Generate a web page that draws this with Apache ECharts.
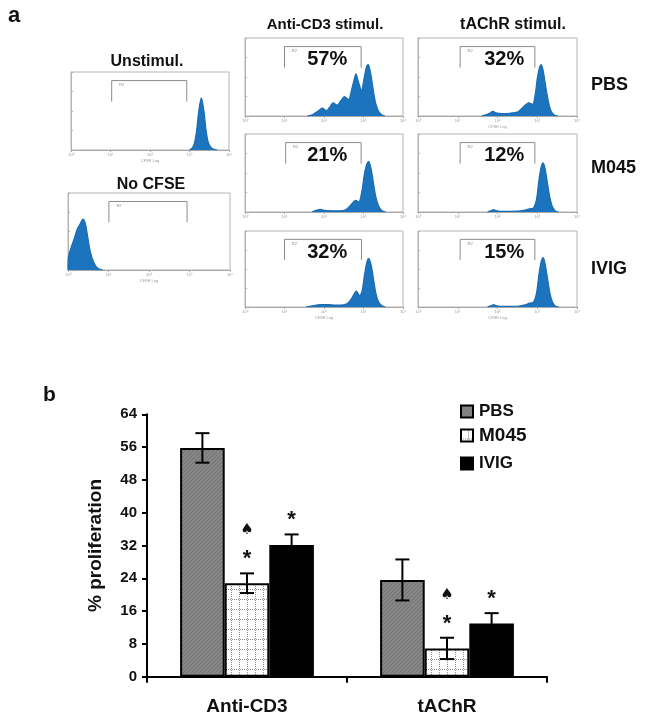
<!DOCTYPE html>
<html><head><meta charset="utf-8">
<script src="https://cdn.jsdelivr.net/npm/echarts@6/dist/echarts.min.js"></script>
<style>html,body{margin:0;padding:0;background:#fff}#c{width:645px;height:722px}</style>
</head><body><div id="c"></div>
<script>
// ---------- Panel a: CFSE histograms ([log10 decade, % of panel height]) ----------
const histUnstim = [[3.0,0],[3.06,2],[3.12,8],[3.18,25],[3.24,52],[3.3,67],[3.36,52],[3.42,25],[3.48,9],[3.55,3],[3.62,1],[3.7,0]];
const histNoCFSE = [[0,0],[0.01,16],[0.08,30],[0.15,40],[0.22,52],[0.3,60],[0.37,66],[0.43,60],[0.49,42],[0.55,24],[0.62,12],[0.7,4],[0.78,1],[0.86,0]];
const histCD3PBS = [[1.58,0],[1.72,2],[1.84,6],[1.96,10],[2.06,7],[2.14,11],[2.23,17],[2.33,14],[2.42,19],[2.52,25],[2.62,21],[2.7,34],[2.76,46],[2.81,54],[2.87,44],[2.95,33],[3.02,50],[3.08,64],[3.12,66],[3.18,55],[3.24,36],[3.3,18],[3.37,7],[3.45,2],[3.54,0]];
const histCD3M045 = [[1.7,0],[1.8,2],[1.9,3.5],[2.0,2],[2.2,1.5],[2.4,1.5],[2.55,3],[2.68,9],[2.8,15],[2.88,13],[2.96,27],[3.02,48],[3.08,61],[3.13,65],[3.19,56],[3.25,38],[3.31,20],[3.38,8],[3.46,2],[3.56,0]];
const histCD3IVIG = [[1.55,0],[1.7,1.5],[1.9,3],[2.1,3],[2.3,2.5],[2.5,3],[2.62,6],[2.72,13],[2.82,21],[2.9,15],[2.96,20],[3.03,44],[3.09,60],[3.13,64],[3.19,56],[3.25,38],[3.31,19],[3.38,7],[3.46,2],[3.55,0]];
const histTPBS = [[1.6,0],[1.7,1.5],[1.8,3.5],[1.88,6],[1.96,4],[2.1,3],[2.3,3.5],[2.5,5],[2.6,9],[2.7,14],[2.79,17],[2.88,15],[2.95,28],[3.0,48],[3.06,63],[3.1,66],[3.15,58],[3.2,42],[3.25,27],[3.3,14],[3.36,5],[3.44,1],[3.52,0]];
const histTM045 = [[1.75,0],[1.85,2],[1.9,3],[1.98,1.5],[2.2,0.8],[2.5,1],[2.7,2.5],[2.8,4],[2.9,5],[2.98,16],[3.04,40],[3.1,58],[3.15,63],[3.2,55],[3.26,36],[3.32,18],[3.38,7],[3.46,1],[3.54,0]];
const histTIVIG = [[1.75,0],[1.85,2],[1.9,3],[1.98,1.5],[2.2,0.8],[2.5,1],[2.7,3],[2.8,5],[2.9,6],[2.98,18],[3.04,42],[3.1,60],[3.15,65],[3.2,56],[3.26,37],[3.32,18],[3.38,7],[3.46,1],[3.54,0]];
const histTickLabels = ['10\u2070','10\u00b9','10\u00b2','10\u00b3','10\u2074'];
const pctCD3 = ['57%','21%','32%'];
const pctTAChR = ['32%','12%','15%'];
const rowLabels = ['PBS','M045','IVIG'];

// ---------- Panel b: bar chart ----------
const categories = ['Anti-CD3','tAChR'];
const seriesNames = ['PBS','M045','IVIG'];
const valPBS = [55.8, 23.6];
const valM045 = [22.8, 6.9];
const valIVIG = [32.1, 13.0];
const errPBS = [3.6, 5.0];
const errM045 = [2.4, 2.6];
const errIVIG = [2.6, 2.5];
const sigStar = [[0,1],[0,2],[1,1],[1,2]];   // [category, series]
const sigSpade = [[0,1],[1,1]];

const FONT = '"Liberation Sans", Arial, sans-serif';
const vals = [valPBS, valM045, valIVIG];
const errs = [errPBS, errM045, errIVIG];

function makePattern(kind){
  const c = document.createElement('canvas');
  if(kind==='pbs'){
    c.width=4;c.height=4;const g=c.getContext('2d');
    g.fillStyle='#868686';g.fillRect(0,0,4,4);
    g.fillStyle='#727272';
    for(let i=0;i<4;i++){g.fillRect(i,3-i,1,1);}
  } else {
    c.width=8;c.height=10;const g=c.getContext('2d');
    g.fillStyle='#ffffff';g.fillRect(0,0,8,10);
    g.fillStyle='#8a8a8a';
    for(let y=0;y<10;y+=2){g.fillRect(7,y,1,1);}
    for(let x=0;x<8;x+=2){g.fillRect(x,9,1,1);}
  }
  return c;
}

const panels = [
  {grid:{left:71,top:72,width:158,height:78}, hist:histUnstim, gate:[1.03,2.93], pct:null, axisName:true},
  {grid:{left:68,top:193,width:162,height:77}, hist:histNoCFSE, gate:[1.01,2.94], pct:null, axisName:true},
  {grid:{left:245,top:38,width:158,height:78}, hist:histCD3PBS, gate:[1.0,2.94], pct:pctCD3[0], pctX:2.08, axisName:false},
  {grid:{left:245,top:134,width:158,height:78}, hist:histCD3M045, gate:[1.03,2.94], pct:pctCD3[1], pctX:2.08, axisName:false},
  {grid:{left:245,top:231,width:158,height:76}, hist:histCD3IVIG, gate:[1.0,2.95], pct:pctCD3[2], pctX:2.08, axisName:true},
  {grid:{left:418,top:38,width:159,height:78}, hist:histTPBS, gate:[1.06,2.94], pct:pctTAChR[0], pctX:2.17, axisName:true},
  {grid:{left:418,top:134,width:159,height:78}, hist:histTM045, gate:[1.06,2.94], pct:pctTAChR[1], pctX:2.17, axisName:false},
  {grid:{left:418,top:231,width:159,height:76}, hist:histTIVIG, gate:[1.06,2.94], pct:pctTAChR[2], pctX:2.17, axisName:true}
];

const grids=[], xAxes=[], yAxes=[], series=[];
panels.forEach((p,i)=>{
  grids.push(Object.assign({show:true,borderColor:'#b5b5b5',borderWidth:1,backgroundColor:'rgba(0,0,0,0)'},p.grid));
  xAxes.push({type:'value',gridIndex:i,min:0,max:4,interval:1,
    axisLine:{show:true,lineStyle:{color:'#a8a8a8',width:1}},
    axisTick:{show:true,length:2,lineStyle:{color:'#a8a8a8'}},
    axisLabel:{show:true,fontSize:4,color:'#9a9a9a',margin:3,formatter:v=>histTickLabels[v]},
    splitLine:{show:false},
    name:p.axisName?'CFSE Log':'',nameLocation:'middle',nameGap:9,nameTextStyle:{fontSize:4,color:'#9a9a9a'}});
  yAxes.push({type:'value',gridIndex:i,min:0,max:100,interval:25,
    axisLine:{show:true,lineStyle:{color:'#b5b5b5'}},
    axisTick:{show:true,length:2,inside:true,lineStyle:{color:'#b0b0b0'}},
    axisLabel:{show:false},splitLine:{show:false}});
  series.push({type:'line',xAxisIndex:i,yAxisIndex:i,data:p.hist,smooth:0.3,symbol:'none',
    lineStyle:{color:'#1a6cb3',width:1.2},areaStyle:{color:'#1b74bd',opacity:1},silent:true,z:3});
  const gy=[62,89];
  series.push({type:'line',xAxisIndex:i,yAxisIndex:i,symbol:'none',silent:true,z:2,
    data:[[p.gate[0],gy[0]],[p.gate[0],gy[1]],[p.gate[1],gy[1]],[p.gate[1],gy[0]]],
    lineStyle:{color:'#8c8c8c',width:1}});
  const txt=[[p.gate[0]+0.25,83,'R2',4,'#888','normal']];
  if(p.pct) txt.push([p.pctX,72,p.pct,20,'#111','bold']);
  series.push({type:'custom',xAxisIndex:i,yAxisIndex:i,silent:true,z:5,data:txt,
    renderItem:(params,api)=>{
      const d=txt[params.dataIndex];const pt=api.coord([d[0],d[1]]);
      return {type:'text',x:pt[0],y:pt[1],style:{text:d[2],fontSize:d[3],fontWeight:d[5],fontFamily:FONT,fill:d[4],align:'center',verticalAlign:'middle'}};
    }});
});

// bar chart grid
const bi = panels.length;
grids.push({left:147,top:414.3,width:400,height:262.4,show:false});
xAxes.push({type:'category',gridIndex:bi,data:categories,
  axisLine:{lineStyle:{color:'#000',width:2}},
  axisTick:{show:true,length:6,lineStyle:{color:'#000',width:2}},
  axisLabel:{fontSize:19,fontWeight:'bold',color:'#111',fontFamily:FONT,margin:21}});
yAxes.push({type:'value',gridIndex:bi,min:0,max:64,interval:8,
  axisLine:{show:true,lineStyle:{color:'#000',width:2}},
  axisTick:{show:true,length:5,lineStyle:{color:'#000',width:2}},
  axisLabel:{fontSize:15,fontWeight:'bold',color:'#111',fontFamily:FONT,margin:10},
  splitLine:{show:false},
  name:'% proliferation',nameLocation:'middle',nameGap:42,nameRotate:90,
  nameTextStyle:{fontSize:19,fontWeight:'bold',color:'#111',fontFamily:FONT}});

const barColors=[{image:makePattern('pbs'),repeat:'repeat'},{image:makePattern('m045'),repeat:'repeat'},'#000000'];
seriesNames.forEach((n,s)=>{
  series.push({type:'bar',name:n,xAxisIndex:bi,yAxisIndex:bi,data:vals[s],
    barWidth:44.6,barGap:'0%',
    itemStyle:{color:barColors[s],borderColor:'#000',borderWidth:2},z:2});
});
seriesNames.forEach((n,s)=>{
  series.push({type:'custom',xAxisIndex:bi,yAxisIndex:bi,silent:true,z:10,
    data:categories.map((c,ci)=>[ci,vals[s][ci],errs[s][ci]]),
    renderItem:(params,api)=>{
      const ci=api.value(0),v=api.value(1),e=api.value(2);
      const bw=44.6;const off=(s-1)*bw;
      const t=api.coord([ci,v+e]),b=api.coord([ci,v-e]);
      const x=t[0]+off,cap=7;const st={stroke:'#000',lineWidth:2};
      return {type:'group',children:[
        {type:'line',shape:{x1:x,y1:t[1],x2:x,y2:b[1]},style:st},
        {type:'line',shape:{x1:x-cap,y1:t[1],x2:x+cap,y2:t[1]},style:st},
        {type:'line',shape:{x1:x-cap,y1:b[1],x2:x+cap,y2:b[1]},style:st}]};
    }});
});
const sigData = sigStar.map(([c,s])=>[c,vals[s][c]+errs[s][c],s,0]).concat(sigSpade.map(([c,s])=>[c,vals[s][c]+errs[s][c],s,1]));
series.push({type:'custom',xAxisIndex:bi,yAxisIndex:bi,silent:true,z:11,data:sigData,
  renderItem:(params,api)=>{
    const c=api.value(0),top=api.value(1),s=api.value(2),k=api.value(3);
    const p=api.coord([c,top]);const x=p[0]+(s-1)*44.6;
    if(k===0) return {type:'text',x:x,y:p[1]-14,style:{text:'*',fontSize:22,fontWeight:'bold',fontFamily:FONT,fill:'#111',align:'center',verticalAlign:'middle'}};
    return {type:'text',x:x,y:p[1]-43,style:{text:'\u2660',fontSize:15,fontFamily:'"DejaVu Sans", sans-serif',fill:'#111',align:'center',verticalAlign:'middle'}};
  }});

const legendBase={orient:'vertical',left:460,itemWidth:12,itemHeight:12,itemGap:4,padding:0,icon:'rect',
  textStyle:{fontWeight:'bold',color:'#111',fontFamily:FONT,padding:[0,0,0,1]}};
const legends=[
  Object.assign({},legendBase,{data:[seriesNames[0]],top:403,textStyle:Object.assign({},legendBase.textStyle,{fontSize:17})}),
  Object.assign({},legendBase,{data:[seriesNames[1]],top:426,textStyle:Object.assign({},legendBase.textStyle,{fontSize:19})}),
  Object.assign({},legendBase,{data:[seriesNames[2]],top:455,textStyle:Object.assign({},legendBase.textStyle,{fontSize:17})})
];

const tStyle=(size)=>({fontSize:size,fontWeight:'bold',fontFamily:FONT,fill:'#111'});
const graphics=[
  {type:'text',left:8,top:5,style:Object.assign({text:'a'},tStyle(22))},
  {type:'text',left:43,top:385,style:Object.assign({text:'b'},tStyle(21))},
  {type:'text',x:325,y:25,style:Object.assign({text:'Anti-CD3 stimul.',align:'center',verticalAlign:'middle'},tStyle(15))},
  {type:'text',x:513,y:25,style:Object.assign({text:'tAChR stimul.',align:'center',verticalAlign:'middle'},tStyle(16))},
  {type:'text',x:147,y:62,style:Object.assign({text:'Unstimul.',align:'center',verticalAlign:'middle'},tStyle(16))},
  {type:'text',x:151,y:185,style:Object.assign({text:'No CFSE',align:'center',verticalAlign:'middle'},tStyle(16))}
];
const rowY=[85,168,269];
rowLabels.forEach((r,i)=>graphics.push({type:'text',x:591,y:rowY[i],style:Object.assign({text:r,align:'left',verticalAlign:'middle'},tStyle(18))}));

const chart=echarts.init(document.getElementById('c'),null,{renderer:'canvas'});
chart.setOption({animation:false,backgroundColor:'#fff',grid:grids,xAxis:xAxes,yAxis:yAxes,series:series,legend:legends,graphic:graphics});
</script></body></html>
